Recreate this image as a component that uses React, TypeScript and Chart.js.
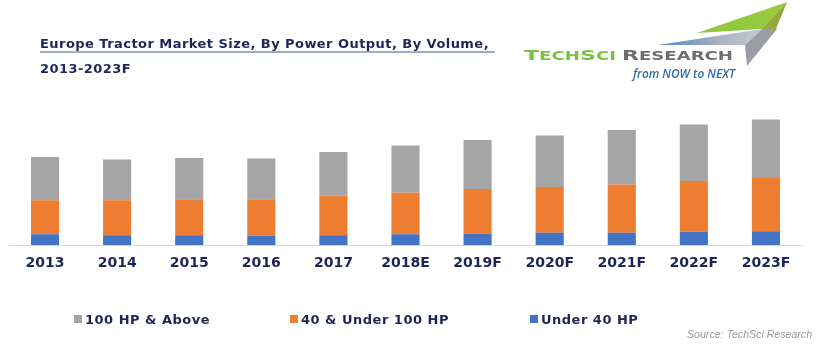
import React, { useEffect, useRef } from "react";
import { Chart, registerables } from "chart.js";

Chart.register(...registerables);

// ---- Data (thousand units) ----
const categories = ["2013", "2014", "2015", "2016", "2017", "2018E", "2019F", "2020F", "2021F", "2022F", "2023F"];
const under40hp = [22, 20, 20, 19, 20, 22, 23, 25, 25, 27, 28];
const from40to100hp = [68, 70, 72, 73, 79, 83, 89, 91, 96, 101, 106];
const above100hp = [86, 81, 82, 81, 87, 94, 98, 103, 109, 113, 117];
const seriesNames = ["100 HP & Above", "40 & Under 100 HP", "Under 40 HP"];
const seriesColors = ["#a5a5a5", "#ed7d31", "#4472c4"];
const yMax = 280;

const titleLine1 = "Europe Tractor Market Size, By Power Output, By Volume,";
const titleLine2 = "2013-2023F";
const sourceText = "Source: TechSci Research";

const navy = "#1b2657";

export default function App() {
  const canvasRef = useRef<HTMLCanvasElement | null>(null);

  useEffect(() => {
    if (!canvasRef.current) return;
    const chart = new Chart(canvasRef.current, {
      type: "bar",
      data: {
        labels: categories,
        datasets: [
          { label: seriesNames[2], data: under40hp, backgroundColor: seriesColors[2] },
          { label: seriesNames[1], data: from40to100hp, backgroundColor: seriesColors[1] },
          { label: seriesNames[0], data: above100hp, backgroundColor: seriesColors[0] },
        ],
      },
      options: {
        animation: false,
        responsive: false,
        maintainAspectRatio: false,
        layout: { padding: { top: 105, left: 9, right: 18, bottom: 68 } },
        datasets: { bar: { categoryPercentage: 1, barPercentage: 0.39 } } as any,
        plugins: {
          legend: { display: false },
          tooltip: { enabled: false },
          title: { display: false },
        },
        scales: {
          x: {
            stacked: true,
            grid: { display: false, drawTicks: false },
            border: { display: true, color: "#d9d9d9", width: 1 },
            ticks: {
              padding: 10,
              color: navy,
              font: { family: "'DejaVu Sans'", weight: "bold", size: 14 },
              maxRotation: 0,
              autoSkip: false,
            },
          },
          y: {
            stacked: true,
            display: false,
            min: 0,
            max: yMax,
          },
        },
      },
    });
    return () => chart.destroy();
  }, []);

  const legendItems = [
    { name: seriesNames[0], color: seriesColors[0], x: 74 },
    { name: seriesNames[1], color: seriesColors[1], x: 290 },
    { name: seriesNames[2], color: seriesColors[2], x: 530 },
  ];

  return (
    <div
      style={{
        position: "absolute",
        left: 0,
        top: 0,
        width: 820,
        height: 350,
        background: "#ffffff",
        overflow: "hidden",
        fontFamily: "'DejaVu Sans', sans-serif",
      }}
    >
      <canvas
        ref={canvasRef}
        width={820}
        height={350}
        style={{ position: "absolute", left: 0, top: 0, width: 820, height: 350, display: "block" }}
      />

      {/* Title */}
      <div
        style={{
          position: "absolute",
          left: 40,
          top: 36,
          fontSize: 13,
          lineHeight: "15px",
          letterSpacing: "0.45px",
          fontWeight: "bold",
          color: navy,
          whiteSpace: "nowrap",
        }}
      >
        {titleLine1}
      </div>
      <div style={{ position: "absolute", left: 40, top: 51, width: 455, height: 2, background: "#9eabc2" }} />
      <div
        style={{
          position: "absolute",
          left: 40,
          top: 60.5,
          fontSize: 13,
          lineHeight: "15px",
          letterSpacing: "0.45px",
          fontWeight: "bold",
          color: navy,
          whiteSpace: "nowrap",
        }}
      >
        {titleLine2}
      </div>

      {/* Logo */}
      <svg
        width={820}
        height={100}
        style={{ position: "absolute", left: 0, top: 0, pointerEvents: "none" }}
      >
        <defs>
          <linearGradient id="band" x1="0" y1="0" x2="1" y2="0">
            <stop offset="0" stopColor="#4f86c0" />
            <stop offset="0.6" stopColor="#a9b4c2" />
            <stop offset="1" stopColor="#c5c9cf" />
          </linearGradient>
          <linearGradient id="greenG" x1="0" y1="1" x2="1" y2="0">
            <stop offset="0" stopColor="#8cc63f" />
            <stop offset="1" stopColor="#9ccc3c" />
          </linearGradient>
        </defs>
        <polygon points="787,2 697,33 762,29" fill="url(#greenG)" />
        <polygon points="787,2 762,29 776,29" fill="#93a93a" />
        <polygon points="658,45 762,29 745,45" fill="url(#band)" />
        <polygon points="762,29 777,29 747,66 745,45" fill="#9a9ea4" />
        <text x={524} y={60} textLength={92} lengthAdjust="spacingAndGlyphs" fill="#7cc142" fontFamily="'DejaVu Sans'" fontWeight="bold">
          <tspan fontSize={14}>T</tspan>
          <tspan fontSize={11.5}>ECH</tspan>
          <tspan fontSize={14}>S</tspan>
          <tspan fontSize={11.5}>CI</tspan>
        </text>
        <text x={622} y={60} textLength={111} lengthAdjust="spacingAndGlyphs" fill="#6d6e71" fontFamily="'DejaVu Sans'" fontWeight="bold">
          <tspan fontSize={14}>R</tspan>
          <tspan fontSize={11.5}>ESEARCH</tspan>
        </text>
        <text
          x={633}
          y={78}
          textLength={102}
          lengthAdjust="spacingAndGlyphs"
          fill="#2f6ea5"
          fontFamily="'Open Sans'"
          fontStyle="italic"
          fontWeight={600}
          fontSize={12}
        >
          from NOW to NEXT
        </text>
      </svg>

      {/* Legend */}
      {legendItems.map((it) => (
        <React.Fragment key={it.name}>
          <div style={{ position: "absolute", left: it.x, top: 315, width: 8, height: 8, background: it.color }} />
          <div
            style={{
              position: "absolute",
              left: it.x + 11,
              top: 312,
              fontSize: 13,
              lineHeight: "15px",
              letterSpacing: "0.5px",
              fontWeight: "bold",
              color: navy,
              whiteSpace: "nowrap",
            }}
          >
            {it.name}
          </div>
        </React.Fragment>
      ))}

      {/* Source */}
      <div
        style={{
          position: "absolute",
          left: 687,
          top: 328,
          fontFamily: "'Liberation Sans', Arial, sans-serif",
          fontStyle: "italic",
          fontSize: 10.6,
          lineHeight: "13px",
          color: "#9a9a9a",
          whiteSpace: "nowrap",
        }}
      >
        {sourceText}
      </div>
    </div>
  );
}
